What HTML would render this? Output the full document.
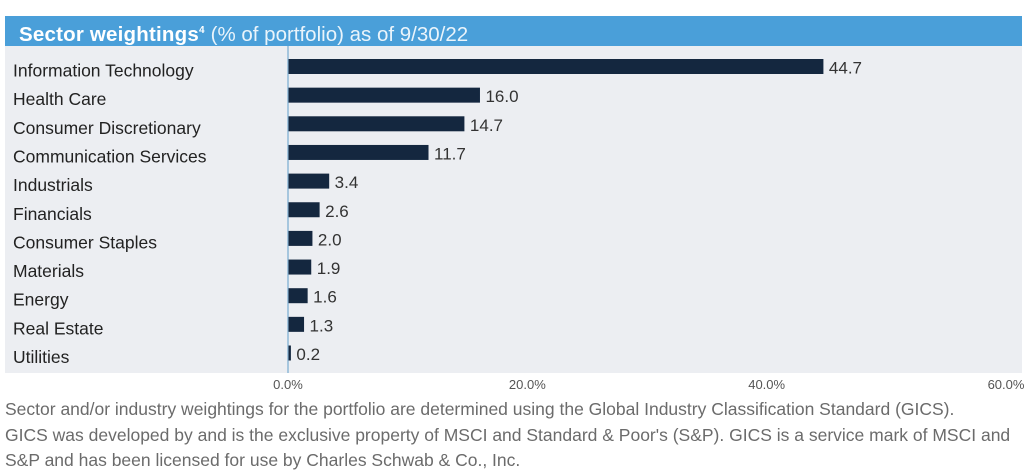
<!DOCTYPE html>
<html><head><meta charset="utf-8">
<style>
body{margin:0;width:1024px;height:474px;background:#fff;overflow:hidden;font-family:"Liberation Sans",sans-serif;}
#hdr{position:absolute;left:5px;top:16px;width:1017px;height:30px;background:#4a9fd9;color:#fff;font-family:"Liberation Sans",sans-serif;font-size:20.5px;line-height:30px;letter-spacing:0.2px}
#hdr b{margin-left:14px;font-weight:bold}
#hdr span{font-weight:normal;color:#eaf4fb;letter-spacing:0}
#panel{position:absolute;left:5px;top:46px;width:1017px;height:327px;background:#eceef2;}
svg{position:absolute;left:0;top:0}
.note{position:absolute;left:5px;font-size:17.5px;color:#6b6b6b;white-space:nowrap}
</style></head><body>
<div id="hdr"><b>Sector weightings<sup style="font-size:10px">4</sup></b> <span>(% of portfolio) as of 9/30/22</span></div>
<div id="panel"></div>
<svg id="chart" width="1024" height="474"></svg>
<div class="note" style="top:399px">Sector and/or industry weightings for the portfolio are determined using the Global Industry Classification Standard (GICS).</div>
<div class="note" style="top:425px">GICS was developed by and is the exclusive property of MSCI and Standard &amp; Poor's (S&amp;P). GICS is a service mark of MSCI and</div>
<div class="note" style="top:450px">S&amp;P and has been licensed for use by Charles Schwab &amp; Co., Inc.</div>
<script>
const categories=["Information Technology","Health Care","Consumer Discretionary","Communication Services","Industrials","Financials","Consumer Staples","Materials","Energy","Real Estate","Utilities"];
const values=[44.7,16.0,14.7,11.7,3.4,2.6,2.0,1.9,1.6,1.3,0.2];
const ticks=[0,20,40,60];
const tickLabels=["0.0%","20.0%","40.0%","60.0%"];
const NS="http://www.w3.org/2000/svg";
const svg=document.getElementById('chart');
const x0=288,x1=1006,vmax=60;
function xs(v){return x0+(x1-x0)*v/vmax;}
function ys(i){return 66.5+i*28.65;}
function mk(t,a,txt){const e=document.createElementNS(NS,t);for(const k in a)e.setAttribute(k,a[k]);if(txt!==undefined)e.textContent=txt;svg.appendChild(e);return e;}
const ax=mk('line',{x1:x0,x2:x0,y1:46,y2:373,stroke:'#8fb8d8','stroke-width':1.5});


categories.forEach((c,i)=>{
  const y=ys(i);
  const l=mk('text',{x:13,y:y+10,'font-size':17.5,fill:'#222','font-family':'"Liberation Sans",sans-serif'},c);
  
  
  const w=Math.max(xs(values[i])-x0,1.5);
  const r=mk('rect',{x:x0+0.5,y:y-7.5,width:w,height:15,fill:'#14273f'});
  
  
  const v=mk('text',{x:x0+w+6,y:y+7,'font-size':17,fill:'#333','font-family':'"Liberation Sans",sans-serif'},values[i].toFixed(1));
  
  
});
ticks.forEach((t,i)=>{
  const e=mk('text',{x:xs(t),y:389,'font-size':13,fill:'#555','text-anchor':'middle','font-family':'"Liberation Sans",sans-serif'},tickLabels[i]);
  
  
});
</script>
</body></html>
